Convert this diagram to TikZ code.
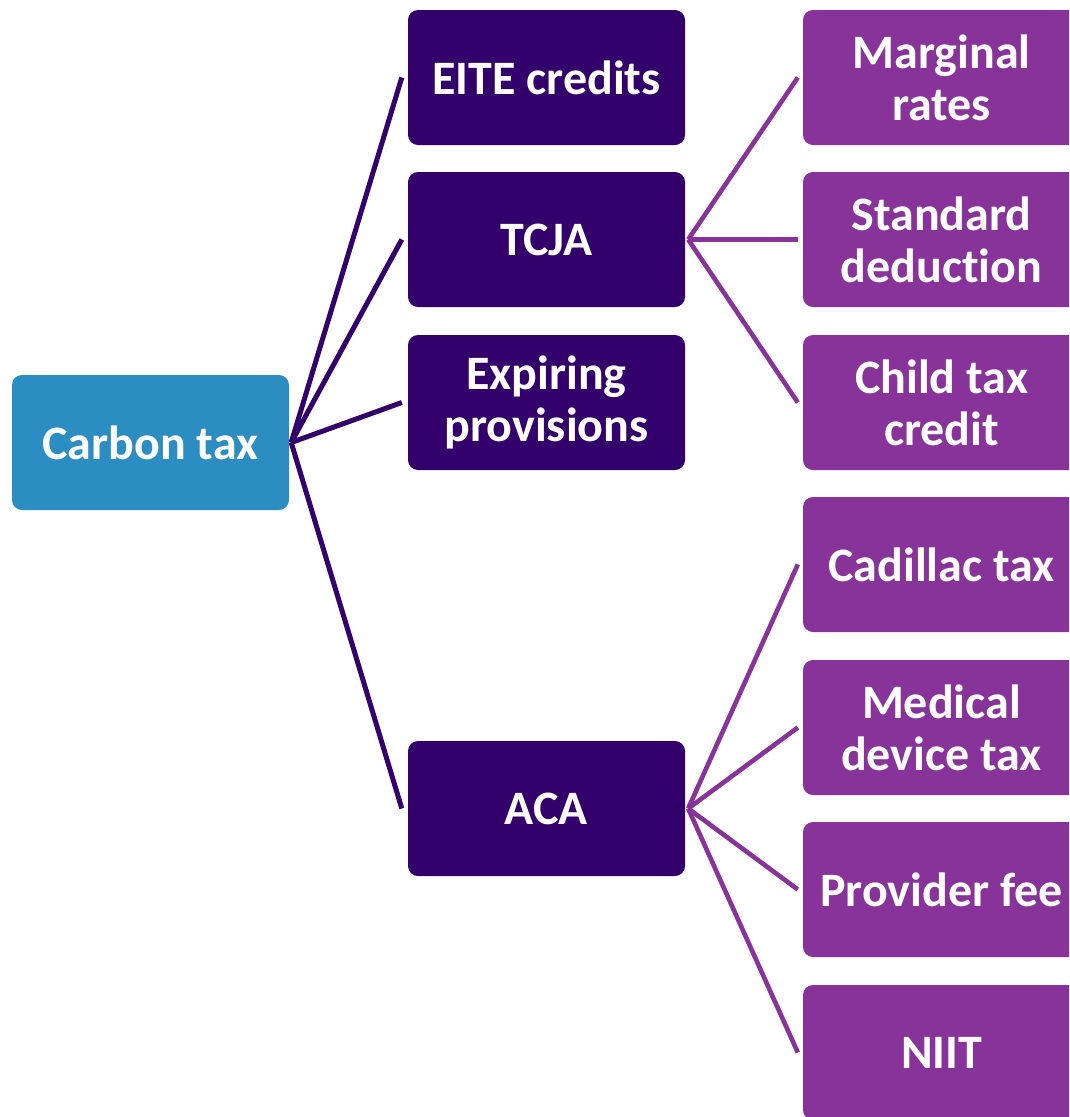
\documentclass[tikz,border=0pt]{standalone}
\usepackage{fontspec}
\setmainfont{Carlito}[Ligatures={NoCommon}]
\definecolor{rootc}{HTML}{2B8DC2}
\definecolor{midc}{HTML}{33006B}
\definecolor{leafc}{HTML}{88339A}
\begin{document}
\begin{tikzpicture}[x=1pt,y=-1pt,
  box/.style={rounded corners=10pt, minimum width=277pt, minimum height=135pt, inner sep=0pt,
    align=center, text=white, font=\fontsize{48}{52}\selectfont\bfseries},
  rootbox/.style={box, fill=rootc},
  midbox/.style={box, fill=midc},
  leafbox/.style={box, fill=leafc},
  midline/.style={draw=midc, line width=5pt},
  leafline/.style={draw=leafc, line width=4.6pt}]
\useasboundingbox (0,0) rectangle (1069,1117);
\clip (0,0) rectangle (1069,1117);
\node[rootbox] (carbon) at (150.5,442.5) {Carbon tax};
\node[midbox] (eite) at (546.5,77.5) {EITE credits};
\node[midbox] (tcja) at (546.5,239.5) {TCJA};
\node[midbox] (exp) at (546.5,402.5) {Expiring\\provisions};
\node[midbox] (aca) at (546.5,808.5) {ACA};
\node[leafbox] (marg) at (941.5,77.5) {Marginal\\rates};
\node[leafbox] (std) at (941.5,239.5) {Standard\\deduction};
\node[leafbox] (ctc) at (941.5,402.5) {Child tax\\credit};
\node[leafbox] (cad) at (941.5,564.5) {Cadillac tax};
\node[leafbox] (med) at (941.5,727.5) {Medical\\device tax};
\node[leafbox] (prov) at (941.5,889.5) {Provider fee};
\node[leafbox] (niit) at (941.5,1052.5) {NIIT};
\coordinate (cs) at ([xshift=2pt]carbon.east);
\foreach \t in {eite,tcja,exp,aca}
  \draw[midline] (cs) -- ([xshift=-6pt]\t.west);
\coordinate (ts) at ([xshift=3pt]tcja.east);
\foreach \t in {marg,std,ctc}
  \draw[leafline] (ts) -- ([xshift=-5pt]\t.west);
\coordinate (as) at ([xshift=3pt]aca.east);
\foreach \t in {cad,med,prov,niit}
  \draw[leafline] (as) -- ([xshift=-5pt]\t.west);
\end{tikzpicture}
\end{document}
